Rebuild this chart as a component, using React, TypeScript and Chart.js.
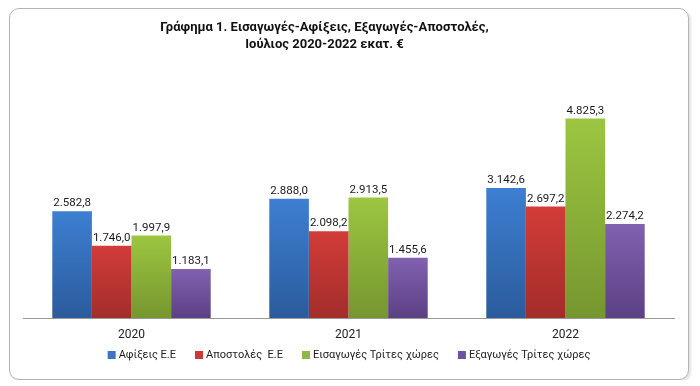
import React, { useEffect, useRef } from "react";
import { Chart, registerables } from "chart.js";

Chart.register(...registerables);

const categories = ["2020", "2021", "2022"];
const seriesNames = ["Αφίξεις Ε.Ε", "Αποστολές  Ε.Ε", "Εισαγωγές Τρίτες χώρες", "Εξαγωγές Τρίτες χώρες"];
const arrivalsEU = [2582.8, 2888.0, 3142.6];
const dispatchesEU = [1746.0, 2098.2, 2697.2];
const importsThird = [1997.9, 2913.5, 4825.3];
const exportsThird = [1183.1, 1455.6, 2274.2];
const titleLines = ["Γράφημα 1. Εισαγωγές-Αφίξεις, Εξαγωγές-Αποστολές,", "Ιούλιος 2020-2022 εκατ. €"];
const yMin = 0;
const yMax = 6000;

const seriesValues = [arrivalsEU, dispatchesEU, importsThird, exportsThird];
const topColors = ["#3d7fd2", "#d23c39", "#9cc640", "#8161b0"];
const bottomColors = ["#2b5b9c", "#a32d2a", "#76962f", "#5c4084"];
const legendColors = ["#3f74c4", "#c93a38", "#8fb947", "#6f51a0"];

const FONT = "Roboto, 'Noto Sans', sans-serif";

function fmt(v: number): string {
  const [i, d] = v.toFixed(1).split(".");
  return i.replace(/\B(?=(\d{3})+(?!\d))/g, ".") + "," + d;
}

const titlePlugin = {
  id: "customTitle",
  afterDraw(chart: any) {
    const ctx = chart.ctx;
    ctx.save();
    ctx.fillStyle = "#111";
    ctx.font = `bold 13px ${FONT}`;
    ctx.textAlign = "center";
    ctx.textBaseline = "middle";
    ctx.fillText(titleLines[0], 314.5, 18.5);
    ctx.fillText(titleLines[1], 314.5, 35.5);
    ctx.restore();
  },
};

const legendPlugin = {
  id: "customLegend",
  afterDraw(chart: any) {
    const ctx = chart.ctx;
    ctx.save();
    ctx.font = `11px ${FONT}`;
    ctx.textBaseline = "middle";
    ctx.textAlign = "left";
    const box = 8;
    const boxGap = 3;
    const itemGap = 19;
    const widths = seriesNames.map((n) => box + boxGap + ctx.measureText(n).width);
    const total = widths.reduce((a, b) => a + b, 0) + itemGap * (seriesNames.length - 1);
    let x = chart.width / 2 - total / 2;
    const y = chart.chartArea.bottom + 37;
    seriesNames.forEach((n, i) => {
      ctx.fillStyle = legendColors[i];
      ctx.fillRect(x, y - box / 2, box, box);
      ctx.fillStyle = "#222";
      ctx.fillText(n, x + box + boxGap, y + 0.5);
      x += widths[i] + itemGap;
    });
    ctx.restore();
  },
};

const valueLabelPlugin = {
  id: "valueLabels",
  afterDatasetsDraw(chart: any) {
    const ctx = chart.ctx;
    ctx.save();
    ctx.fillStyle = "#1a1a1a";
    ctx.font = `11.5px ${FONT}`;
    ctx.textAlign = "center";
    ctx.textBaseline = "bottom";
    chart.data.datasets.forEach((ds: any, di: number) => {
      const meta = chart.getDatasetMeta(di);
      meta.data.forEach((el: any, i: number) => {
        ctx.fillText(fmt(ds.data[i]), el.x, el.y - 2);
      });
    });
    ctx.restore();
  },
};

export default function App() {
  const ref = useRef<HTMLCanvasElement | null>(null);

  useEffect(() => {
    if (!ref.current) return;
    const chart = new Chart(ref.current, {
      type: "bar",
      data: {
        labels: categories,
        datasets: seriesValues.map((vals, si) => ({
          label: seriesNames[si],
          data: vals,
          backgroundColor: (c: any) => {
            const ch = c.chart;
            if (c.dataIndex === undefined || !ch.chartArea || !ch.scales.y) return legendColors[si];
            const y = ch.scales.y;
            const top = y.getPixelForValue(vals[c.dataIndex]);
            const bottom = y.getPixelForValue(0);
            const g = ch.ctx.createLinearGradient(0, top, 0, bottom);
            g.addColorStop(0, topColors[si]);
            g.addColorStop(1, bottomColors[si]);
            return g;
          },
          borderWidth: 0,
          categoryPercentage: 0.73,
          barPercentage: 1,
        })),
      },
      options: {
        responsive: false,
        animation: false,
        layout: { padding: { top: 61, left: 13, right: 14, bottom: 37 } },
        scales: {
          x: {
            grid: { display: false, drawTicks: false },
            border: { display: true, color: "#9a9a9a", width: 1 },
            ticks: { color: "#222", font: { family: FONT, size: 12 }, padding: 10 },
            afterFit: (s: any) => {
              s.height = 24;
            },
          },
          y: { display: false, min: yMin, max: yMax },
        },
        plugins: {
          legend: { display: false },
          tooltip: { enabled: false },
          title: { display: false },
        },
      },
      plugins: [titlePlugin, valueLabelPlugin, legendPlugin],
    });
    return () => chart.destroy();
  }, []);

  return (
    <div
      style={{
        width: 678,
        height: 370,
        marginLeft: 1,
        border: "1px solid #b4b4b4",
        borderRadius: 10,
        boxShadow: "2px 2px 3px rgba(0,0,0,0.12)",
        background: "#fff",
        overflow: "hidden",
      }}
    >
      <canvas ref={ref} width={678} height={370} style={{ display: "block" }} />
    </div>
  );
}
